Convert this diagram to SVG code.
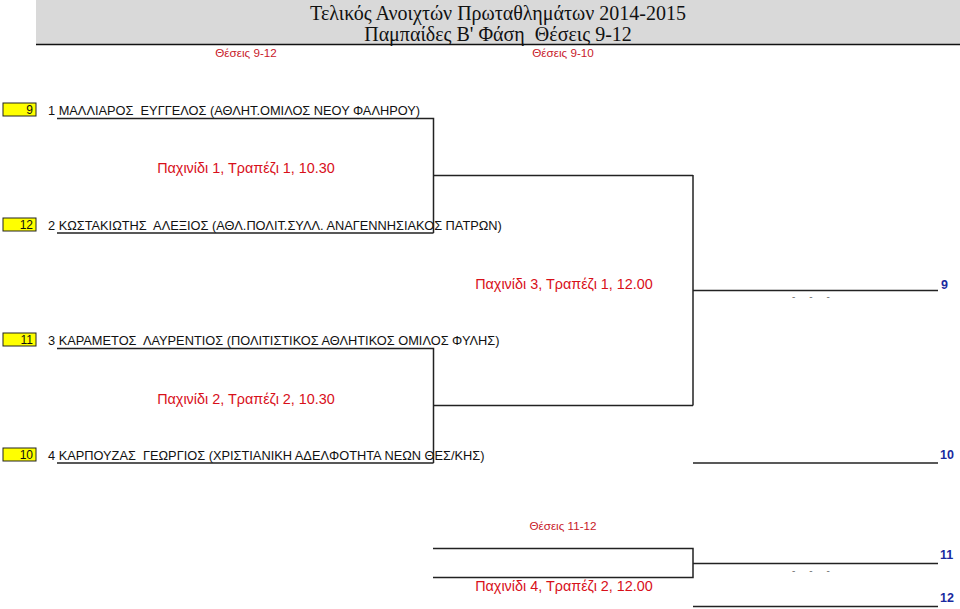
<svg xmlns="http://www.w3.org/2000/svg" width="960" height="609" viewBox="0 0 960 609">
<style>
text{white-space:pre}
.t{font-family:"Liberation Serif","DejaVu Serif",serif;font-size:20px;fill:#111}
.n{font-family:"Liberation Sans",Arial,sans-serif;font-size:12.8px;fill:#111}
.g{font-family:"Liberation Sans",Arial,sans-serif;font-size:14.4px;fill:#d8101a}
.p{font-family:"Liberation Sans",Arial,sans-serif;font-size:11.7px;fill:#c8202a}
.s{font-family:"Liberation Sans",Arial,sans-serif;font-size:12px;fill:#111;text-anchor:end}
.b{font-family:"Liberation Sans",Arial,sans-serif;font-size:12.5px;font-weight:bold;fill:#1a2aa0}
.d{font-family:"Liberation Sans",Arial,sans-serif;font-size:10px;fill:#777;text-anchor:middle}
.box{fill:#ffff00;stroke:#222;stroke-width:1}
.ln{stroke:#222;stroke-width:1.5;fill:none}
</style>
<rect width="960" height="609" fill="#fff"/>
<g id="header">
<rect x="36" y="0" width="924" height="44" fill="#d9d9d9"/>
<line x1="36" y1="44.5" x2="960" y2="44.5" stroke="#111" stroke-width="1.5"/>
<text class="t" x="498" y="20" text-anchor="middle">Τελικός Ανοιχτών Πρωταθλημάτων 2014-2015</text>
<text class="t" x="498" y="41" text-anchor="middle" xml:space="preserve">Παμπαίδες Β' Φάση  Θέσεις 9-12</text>
<text class="p" x="246" y="57" text-anchor="middle">Θέσεις 9-12</text>
<text class="p" x="563" y="57" text-anchor="middle">Θέσεις 9-10</text>
</g>
<g id="seed1">
<rect class="box" x="3" y="103" width="33" height="13"/>
<text class="s" x="33" y="114">9</text>
<text class="n" x="48" y="115" xml:space="preserve">1 ΜΑΛΛΙΑΡΟΣ  ΕΥΓΓΕΛΟΣ (ΑΘΛΗΤ.ΟΜΙΛΟΣ ΝΕΟΥ ΦΑΛΗΡΟΥ)</text>
</g>
<g id="seed2">
<rect class="box" x="3" y="218" width="33" height="13"/>
<text class="s" x="33" y="229">12</text>
<text class="n" x="48" y="230" xml:space="preserve">2 ΚΩΣΤΑΚΙΩΤΗΣ  ΑΛΕΞΙΟΣ (ΑΘΛ.ΠΟΛΙΤ.ΣΥΛΛ. ΑΝΑΓΕΝΝΗΣΙΑΚΟΣ ΠΑΤΡΩΝ)</text>
</g>
<g id="seed3">
<rect class="box" x="3" y="333" width="33" height="13"/>
<text class="s" x="33" y="344">11</text>
<text class="n" x="48" y="345" xml:space="preserve">3 ΚΑΡΑΜΕΤΟΣ  ΛΑΥΡΕΝΤΙΟΣ (ΠΟΛΙΤΙΣΤΙΚΟΣ ΑΘΛΗΤΙΚΟΣ ΟΜΙΛΟΣ ΦΥΛΗΣ)</text>
</g>
<g id="seed4">
<rect class="box" x="3" y="448" width="33" height="13"/>
<text class="s" x="33" y="459">10</text>
<text class="n" x="48" y="460" xml:space="preserve">4 ΚΑΡΠΟΥΖΑΣ  ΓΕΩΡΓΙΟΣ (ΧΡΙΣΤΙΑΝΙΚΗ ΑΔΕΛΦΟΤΗΤΑ ΝΕΩΝ ΘΕΣ/ΚΗΣ)</text>
</g>
<g id="games">
<text class="g" x="246" y="173" text-anchor="middle">Παχινίδι 1, Τραπέζι 1, 10.30</text>
<text class="g" x="246" y="404" text-anchor="middle">Παχινίδι 2, Τραπέζι 2, 10.30</text>
<text class="g" x="564" y="289" text-anchor="middle">Παχινίδι 3, Τραπέζι 1, 12.00</text>
<text class="p" x="563" y="530" text-anchor="middle">Θέσεις 11-12</text>
<text class="g" x="564" y="591" text-anchor="middle">Παχινίδι 4, Τραπέζι 2, 12.00</text>
<text class="d" x="811" y="300" xml:space="preserve">-     -     -</text>
<text class="d" x="811" y="574" xml:space="preserve">-     -     -</text>
</g>
<g id="results">
<text class="b" x="941" y="289">9</text>
<text class="b" x="940" y="459">10</text>
<text class="b" x="940" y="559">11</text>
<text class="b" x="940" y="602">12</text>
</g>
<g id="connectors">
<path class="ln" d="M57 118.5H433.5V233M57 233H433.5"/>
<path class="ln" d="M433.5 175.5H693"/>
<path class="ln" d="M57 348.5H433.5V463M57 463H433.5"/>
<path class="ln" d="M433.5 405.5H693"/>
<path class="ln" d="M693 175V405.5"/>
<path class="ln" d="M693 290.5H938"/>
<path class="ln" d="M693 463H938"/>
<path class="ln" d="M433 548.5H693V577.5H433"/>
<path class="ln" d="M693 563.5H938"/>
<path class="ln" d="M693 606.5H938"/>
</g>
</svg>
